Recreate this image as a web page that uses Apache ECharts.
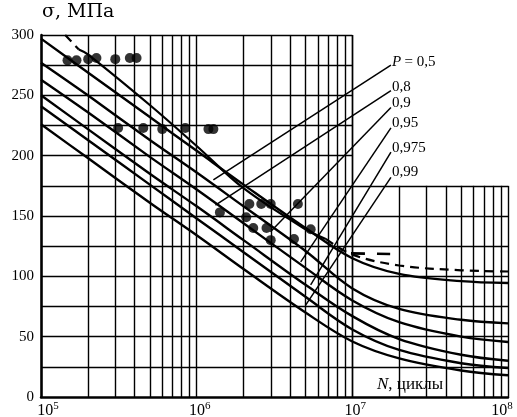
<!DOCTYPE html>
<html><head><meta charset="utf-8">
<script src="https://cdn.jsdelivr.net/npm/echarts@6/dist/echarts.min.js"></script>
<style>html,body{margin:0;padding:0;background:#fff}#c{width:517px;height:417px}</style>
</head><body><div id="c"></div>
<script>
// ---- data ----
const curveN = [1e5, 2e5, 5e5, 1e6, 2e6, 5e6, 1e7, 2e7, 5e7, 1e8];
const c1 = [297, 269, 232, 204, 176, 140, 115, 102, 96, 94.5];
const c2 = [277, 250, 213, 186, 158, 121, 90, 73, 64, 61];
const c3 = [263, 236, 199, 172, 144, 107, 80, 62, 50, 45.6];
const c4 = [250, 222, 185, 158, 130, 93, 67, 48, 35, 30];
const c5 = [241, 213, 176, 148, 120, 83, 56, 39, 28, 24];
const c6 = [226, 198, 161, 134, 106, 70, 46, 32, 22, 18];
// median curve: dashed at both ends, solid over the tested range
const medTopN = [1.43e5, 1.75e5];
const medTopS = [300, 288];
const medMidN = [1.75e5, 2e5, 5e5, 1e6, 2e6, 5e6, 6.75e6];
const medMidS = [288, 284, 242, 208, 173, 139, 131];
const medEndN = [6.75e6, 1e7, 2e7, 5e7, 1e8];
const medEndS = [131, 118, 109, 105, 104];
const kneeN = [9.8e6, 1.75e7];
const kneeS = [119, 118.5];
const pointsN = [1.48e5, 1.69e5, 2.01e5, 2.27e5, 3.0e5, 3.72e5, 4.11e5,
                 3.13e5, 4.54e5, 6.01e5, 8.45e5, 1.19e6, 1.28e6,
                 1.41e6, 2.18e6, 2.60e6, 2.99e6, 4.47e6, 2.08e6, 2.31e6, 2.81e6, 2.99e6, 5.40e6, 4.22e6];
const pointsS = [279, 279, 280, 281, 280, 281, 281,
                 223, 223, 222, 223, 222, 222,
                 153, 160, 160, 160, 160, 149, 140, 140, 130, 139, 131];
const openN = [6.75e6, 9.8e6];
const openS = [131, 119];
const labels = ['0,8', '0,9', '0,95', '0,975', '0,99'];
const leaderStartN = [1.77e7, 1.77e7, 1.77e7, 1.77e7, 1.77e7, 1.77e7];
const leaderStartS = [275, 254, 240, 223, 203, 182];
const leaderEndN = [1.28e6, 1.32e6, 2.98e6, 4.66e6, 5.4e6, 5.0e6];
const leaderEndS = [180, 159, 137, 112, 93, 76];
const gridY = [25, 50, 75, 100, 125, 150, 175, 200, 225, 250, 275, 300];
const mult = [1, 2, 3, 4, 5, 6, 7, 8, 9];
const decades = [1e5, 1e6, 1e7];

// ---- grid lines (graph paper with cut-out) ----
const grid = [];
decades.forEach(d => mult.forEach(m => {
  const n = d * m;
  const top = n <= 1e7 ? 300 : 175;
  grid.push([{coord: [n, 0]}, {coord: [n, top]}]);
}));
grid.push([{coord: [1e7, 0]}, {coord: [1e7, 300]}]);
grid.push([{coord: [1e8, 0]}, {coord: [1e8, 175]}]);
gridY.forEach(s => {
  const right = s <= 175 ? 1e8 : 1e7;
  grid.push([{coord: [1e5, s]}, {coord: [right, s]}]);
});

const curves = [c1, c2, c3, c4, c5, c6];
const font = 'Liberation Serif';
const series = [];
const pairs = (ns, ss) => ns.map((n, i) => [n, ss[i]]);
series.push({
  type: 'line', data: [], silent: true,
  markLine: { silent: true, symbol: 'none', animation: false,
    label: {show: false},
    lineStyle: {color: '#000', width: 1.4, type: 'solid'}, data: grid }
});
curves.forEach(c => series.push({
  type: 'line', smooth: 0.35, showSymbol: false, silent: true,
  data: pairs(curveN, c),
  lineStyle: {color: '#000', width: 2.4}
}));
series.push({
  type: 'line', showSymbol: false, silent: true,
  data: pairs(medTopN, medTopS),
  lineStyle: {color: '#000', width: 2.2, type: [9, 6]}
});
series.push({
  type: 'line', smooth: 0.35, showSymbol: false, silent: true,
  data: pairs(medMidN, medMidS),
  lineStyle: {color: '#000', width: 2.2}
});
series.push({
  type: 'line', smooth: 0.35, showSymbol: false, silent: true,
  data: pairs(medEndN, medEndS),
  lineStyle: {color: '#000', width: 2.2, type: [9, 6]}
});
series.push({
  type: 'line', showSymbol: false, silent: true,
  data: pairs(kneeN, kneeS),
  lineStyle: {color: '#000', width: 2.6, type: [14, 12]}
});
leaderStartN.forEach((n, i) => series.push({
  type: 'line', showSymbol: false, silent: true,
  data: [[n, leaderStartS[i]], [leaderEndN[i], leaderEndS[i]]],
  lineStyle: {color: '#000', width: 1.5}
}));
series.push({
  type: 'scatter', symbolSize: 10, silent: true,
  data: pairs(pointsN, pointsS),
  itemStyle: {color: '#000'}
});
series.push({
  type: 'scatter', symbol: 'emptyCircle', symbolSize: 6, silent: true,
  data: pairs(openN, openS),
  itemStyle: {color: '#fff', borderColor: '#000', borderWidth: 1.5}
});

const textEls = [
  {type: 'text', left: 42, top: 3, style: {text: 'σ, МПа', font: '19px "DejaVu Serif"', fill: '#000'}},
  {type: 'text', left: 392, top: 55, style: {rich: {i: {fontStyle: 'italic', fontFamily: font, fontSize: 15}, n: {fontFamily: font, fontSize: 15}}, text: '{i|P} {n|= 0,5}', fill: '#000'}},
  {type: 'text', left: 377, top: 376, style: {rich: {i: {fontStyle: 'italic', fontFamily: font, fontSize: 17}, n: {fontFamily: font, fontSize: 17}}, text: '{i|N}{n|, циклы}', fill: '#000'}}
];
const labTops = [80, 96, 116, 141, 165];
labels.forEach((t, i) => textEls.push({type: 'text', left: 392, top: labTops[i],
  style: {text: t, font: '15px "' + font + '"', fill: '#000'}}));

const expLabel = v => {
  const e = Math.round(Math.log10(v));
  const core = '{b|10}{s|' + e + '}';
  if (e === 5) return '{p14|}' + core;
  if (e === 8) return core + '{p12|}';
  return '{p6|}' + core;
};

const chart = echarts.init(document.getElementById('c'));
chart.setOption({
  animation: false,
  backgroundColor: '#fff',
  grid: {left: 41, right: 9, top: 35, bottom: 20, containLabel: false, outerBoundsMode: 'none'},
  xAxis: {
    type: 'log', logBase: 10, min: 1e5, max: 1e8, splitNumber: 3,
    axisLine: {lineStyle: {color: '#000', width: 2.5}},
    axisTick: {show: false}, splitLine: {show: false},
    axisLabel: {
      margin: 4, color: '#000',
      formatter: expLabel,
      rich: {b: {fontFamily: font, fontSize: 16, color: '#000'},
             s: {fontFamily: font, fontSize: 11, color: '#000', verticalAlign: 'top', padding: [0, 0, 8, 0]},
             p14: {width: 14}, p12: {width: 12}, p6: {width: 6}}
    }
  },
  yAxis: {
    type: 'value', min: 0, max: 300, interval: 50,
    axisLine: {show: true, lineStyle: {color: '#000', width: 2.5}},
    axisTick: {show: false}, splitLine: {show: false},
    axisLabel: {margin: 7, color: '#000', fontFamily: font, fontSize: 15}
  },
  graphic: textEls,
  series: series
});
</script></body></html>
